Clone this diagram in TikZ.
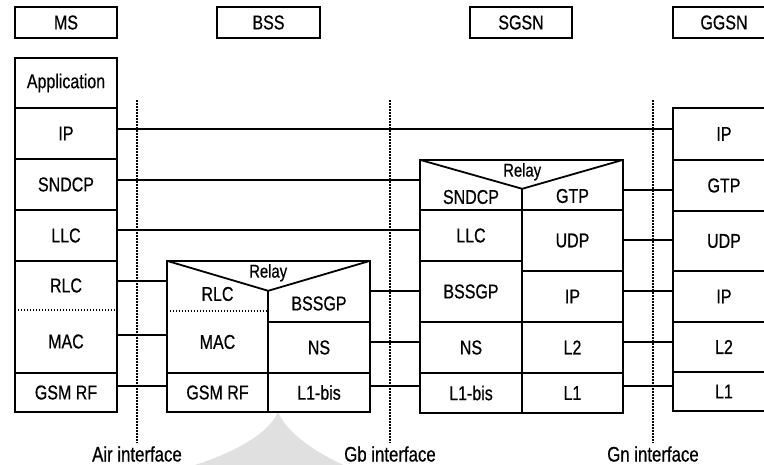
\documentclass[tikz,border=0pt]{standalone}
\usepackage{fontspec}
\setmainfont{Liberation Sans}[FakeStretch=0.8,FakeBold=0.6]
\usetikzlibrary{calc}
\tikzset{
  box/.style={draw, line width=1.8pt, inner sep=0pt},
  cellx/.style={inner sep=0pt},
  lbl/.style={inner sep=0pt, font=\fontsize{20}{22}\selectfont},
  iflbl/.style={inner sep=0pt, font=\fontsize{21}{23}\selectfont},
  relay/.style={inner sep=0pt, font=\fontsize{18.5}{20}\selectfont},
  conn/.style={line width=1.8pt},
  iface/.style={line width=1.6pt, dash pattern=on 1.6pt off 1.4pt},
  sepline/.style={line width=1.8pt},
  dsep/.style={line width=1.6pt, dash pattern=on 1.6pt off 1.4pt},
}
\newcommand\cellbox[7]{\node[#1, anchor=center, minimum width={#5-#3}, minimum height={#6-#4}, font=\fontsize{20}{22}\selectfont] (#2) at ({(#3+#5)/2},{(#4+#6)/2}) {#7};}
\newcommand\link[3]{\coordinate (#1-#2) at ([yshift=#3]#1.east); \draw[conn] (#1-#2) -- (#1-#2 -| #2.west);}
\begin{document}
\begin{tikzpicture}[x=1pt,y=-1pt]
\useasboundingbox (0,0) rectangle (764,465);
\clip (0,0) rectangle (764,465);
% watermark
\fill[black!12] (278,412) .. controls (268,435) and (230,455) .. (185,468) -- (350,468) .. controls (320,455) and (288,435) .. (278,412) -- cycle;

% ---------- MS
\cellbox{box}{msh}{15}{7}{117}{38}{MS}
\cellbox{box}{msapp}{15}{58}{117}{108}{Application}
\cellbox{box}{msip}{15}{108}{117}{159}{IP}
\cellbox{box}{mssndcp}{15}{159}{117}{210}{SNDCP}
\cellbox{box}{msllc}{15}{210}{117}{261}{LLC}
\cellbox{cellx}{msrlc}{15}{261}{117}{310}{RLC}
\cellbox{cellx}{msmac}{15}{310}{117}{373}{MAC}
\cellbox{box}{msrf}{15}{373}{117}{412}{GSM RF}
\draw[sepline] (msrlc.north west) rectangle (msmac.south east);
\draw[dsep] (msrlc.south west) -- (msrlc.south east);

% ---------- BSS
\cellbox{box}{bssh}{217}{7}{320}{38}{BSS}
\cellbox{cellx}{bsrlc}{167}{261}{268}{311}{}
\cellbox{cellx}{bsmac}{167}{311}{268}{373}{MAC}
\cellbox{cellx}{bsrf}{167}{373}{268}{412}{GSM RF}
\cellbox{cellx}{bsbssgp}{268}{261}{370}{322}{}
\cellbox{cellx}{bsns}{268}{322}{370}{373}{NS}
\cellbox{cellx}{bsl1}{268}{373}{370}{412}{L1-bis}
\node[lbl] (bsrlct) at ($(bsrlc.center)+(0,8)$) {RLC};
\node[lbl] (bsbssgpt) at ($(bsbssgp.center)+(0,12)$) {BSSGP};
\coordinate (bsv) at ($(bsrlc.north east)+(0,30)$);
\node[relay] (bsrelay) at ($(bsrlc.north east)+(0,12)$) {Relay};
\draw[sepline] (bsrlc.north west) rectangle (bsl1.south east);
\draw[sepline] (bsrlc.north west) -- (bsv) -- (bsbssgp.north east);
\draw[sepline] (bsv) -- (bsrf.south east);
\draw[dsep] (bsrlc.south west) -- (bsrlc.south east);
\draw[sepline] (bsmac.south west) -- (bsmac.south east);
\draw[sepline] (bsbssgp.south west) -- (bsbssgp.south east);
\draw[sepline] (bsns.south west) -- (bsns.south east);

% ---------- SGSN
\cellbox{box}{sgh}{470}{7}{572}{38}{SGSN}
\cellbox{cellx}{sgsndcp}{420}{160}{522}{210}{}
\cellbox{cellx}{sgllc}{420}{210}{522}{261}{LLC}
\cellbox{cellx}{sgbssgp}{420}{261}{522}{322}{BSSGP}
\cellbox{cellx}{sgns}{420}{322}{522}{373}{NS}
\cellbox{cellx}{sgl1}{420}{373}{522}{413}{L1-bis}
\cellbox{cellx}{sggtp}{522}{160}{623}{210}{}
\cellbox{cellx}{sgudp}{522}{210}{623}{271}{UDP}
\cellbox{cellx}{sgip}{522}{271}{623}{322}{IP}
\cellbox{cellx}{sgl2}{522}{322}{623}{373}{L2}
\cellbox{cellx}{sgl1b}{522}{373}{623}{413}{L1}
\node[lbl] (sgsndcpt) at ($(sgsndcp.center)+(0,12)$) {SNDCP};
\node[lbl] (sggtpt) at ($(sggtp.center)+(0,11)$) {GTP};
\coordinate (sgv) at ($(sgsndcp.north east)+(0,29)$);
\node[relay] (sgrelay) at ($(sgsndcp.north east)+(0,12)$) {Relay};
\draw[sepline] (sgsndcp.north west) rectangle (sgl1b.south east);
\draw[sepline] (sgsndcp.north west) -- (sgv) -- (sggtp.north east);
\draw[sepline] (sgv) -- (sgl1.south east);
\foreach \c in {sgsndcp,sgllc,sgbssgp,sgns,sggtp,sgudp,sgip,sgl2}
  \draw[sepline] (\c.south west) -- (\c.south east);

% ---------- GGSN
\cellbox{box}{ggh}{673}{7}{775}{38}{GGSN}
\cellbox{box}{ggip}{673}{108}{775}{160}{IP}
\cellbox{box}{gggtp}{673}{160}{775}{211}{GTP}
\cellbox{box}{ggudp}{673}{211}{775}{271}{UDP}
\cellbox{box}{ggip2}{673}{271}{775}{322}{IP}
\cellbox{box}{ggl2}{673}{322}{775}{372}{L2}
\cellbox{box}{ggl1}{673}{372}{775}{411}{L1}

% ---------- interfaces
\node[iflbl] (airl) at (137,454) {Air interface};
\node[iflbl] (gbl) at (390,454) {Gb interface};
\node[iflbl] (gnl) at (653,454) {Gn interface};
\coordinate (airt) at (137,100);
\coordinate (gbt) at (390,100);
\coordinate (gnt) at (653,100);
\draw[iface, shorten >=3pt] (airt) -- (airt |- airl.north);
\draw[iface, shorten >=3pt] (gbt) -- (gbt |- gbl.north);
\draw[iface, shorten >=3pt] (gnt) -- (gnt |- gnl.north);

% ---------- connectors
\link{msip}{ggip}{4.5}
\link{mssndcp}{sgsndcp}{4.5}
\link{msllc}{sgllc}{5.5}
\link{msrlc}{bsrlc}{4.5}
\link{msmac}{bsmac}{6.5}
\link{msrf}{bsrf}{6.5}
\link{bsbssgp}{sgbssgp}{0.5}
\link{bsns}{sgns}{5.5}
\link{bsl1}{sgl1}{6.5}
\link{sggtp}{gggtp}{-5}
\link{sgudp}{ggudp}{0.5}
\link{sgip}{ggip2}{5.5}
\link{sgl2}{ggl2}{5.5}
\link{sgl1b}{ggl1}{7}
\end{tikzpicture}
\end{document}
